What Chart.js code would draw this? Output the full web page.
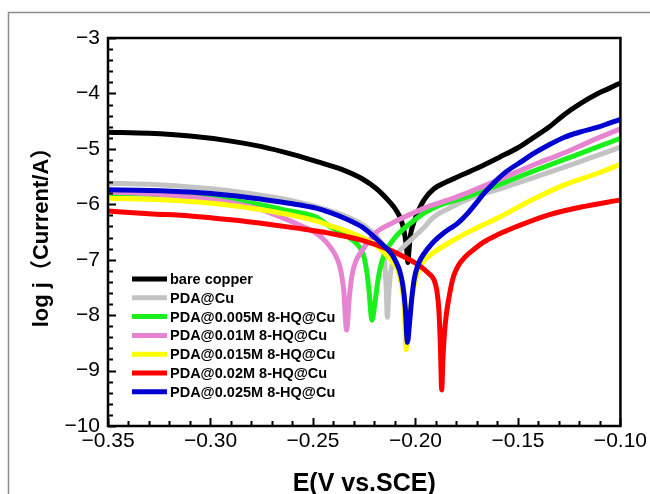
<!DOCTYPE html>
<html>
<head>
<meta charset="utf-8">
<script src="https://cdn.jsdelivr.net/npm/chart.js@4.4.1/dist/chart.umd.min.js"></script>
<style>
  html, body { margin: 0; padding: 0; background: #fff; }
  #wrap { width: 650px; height: 494px; position: relative; }
</style>
</head>
<body>
<div id="wrap"><canvas id="c" width="650" height="494"></canvas></div>
<script>
// ---- Data ----
const seriesLabels = [
  'bare copper', 'PDA@Cu', 'PDA@0.005M 8-HQ@Cu', 'PDA@0.01M 8-HQ@Cu',
  'PDA@0.015M 8-HQ@Cu', 'PDA@0.02M 8-HQ@Cu', 'PDA@0.025M 8-HQ@Cu'
];
const seriesColors = ['#000000', '#c3c3c3', '#1cf01c', '#e684d2', '#ffff00', '#ff0000', '#0000d0'];

// bare copper
const bareE = [-0.35, -0.33, -0.31, -0.29, -0.275, -0.26, -0.248, -0.236, -0.226, -0.219, -0.214, -0.2105, -0.2080, -0.2062, -0.2050, -0.2042, -0.2037, -0.2032, -0.2024, -0.2010, -0.1991, -0.1958, -0.1910, -0.1850, -0.1790, -0.170, -0.159, -0.150, -0.143, -0.135, -0.127, -0.119, -0.111, -0.105, -0.100];
const bareL = [-4.70, -4.72, -4.77, -4.86, -4.96, -5.10, -5.23, -5.37, -5.54, -5.72, -5.90, -6.05, -6.20, -6.38, -6.60, -6.85, -7.05, -6.85, -6.55, -6.35, -6.16, -5.92, -5.72, -5.60, -5.50, -5.35, -5.15, -4.98, -4.81, -4.61, -4.37, -4.17, -4.00, -3.90, -3.81];

// PDA@Cu
const pdaE = [-0.35, -0.33, -0.31, -0.29, -0.27, -0.255, -0.245, -0.235, -0.228, -0.222, -0.218, -0.2160, -0.2150, -0.2143, -0.2137, -0.2130, -0.2120, -0.2105, -0.2080, -0.2054, -0.2010, -0.1972, -0.1910, -0.1840, -0.1752, -0.1589, -0.1431, -0.1273, -0.1144, -0.100];
const pdaL = [-5.62, -5.64, -5.69, -5.76, -5.87, -5.98, -6.08, -6.20, -6.32, -6.47, -6.62, -6.80, -7.05, -7.50, -8.04, -7.60, -7.20, -6.98, -6.85, -6.75, -6.60, -6.47, -6.23, -6.08, -5.92, -5.72, -5.53, -5.33, -5.16, -4.97];

// PDA@0.005M 8-HQ@Cu
const hq005E = [-0.35, -0.33, -0.31, -0.29, -0.275, -0.264, -0.2485, -0.2422, -0.2327, -0.2280, -0.2255, -0.2240, -0.2228, -0.2212, -0.2195, -0.2180, -0.2165, -0.2149, -0.2135, -0.2100, -0.2054, -0.2010, -0.1958, -0.1890, -0.1752, -0.1589, -0.1431, -0.1273, -0.1144, -0.100];
const hq005L = [-5.80, -5.82, -5.86, -5.93, -6.01, -6.10, -6.23, -6.39, -6.59, -6.74, -6.90, -7.15, -7.50, -8.09, -7.70, -7.30, -7.05, -6.88, -6.78, -6.60, -6.43, -6.30, -6.16, -6.03, -5.87, -5.64, -5.41, -5.19, -5.01, -4.81];

// PDA@0.01M 8-HQ@Cu
const hq01E = [-0.35, -0.33, -0.31, -0.29, -0.275, -0.265, -0.258, -0.2485, -0.2440, -0.2410, -0.2385, -0.2365, -0.2350, -0.2336, -0.2322, -0.2308, -0.2290, -0.2260, -0.2220, -0.2183, -0.2120, -0.2054, -0.1944, -0.1814, -0.1752, -0.1589, -0.1431, -0.1273, -0.1144, -0.100];
const hq01L = [-5.78, -5.81, -5.87, -5.97, -6.10, -6.24, -6.35, -6.52, -6.66, -6.80, -6.96, -7.18, -7.55, -8.27, -7.65, -7.25, -7.02, -6.83, -6.63, -6.48, -6.35, -6.23, -6.05, -5.89, -5.80, -5.55, -5.30, -5.07, -4.86, -4.64];

// PDA@0.015M 8-HQ@Cu
const hq015E = [-0.35, -0.33, -0.31, -0.29, -0.275, -0.26, -0.2485, -0.2422, -0.2340, -0.2260, -0.2183, -0.2140, -0.2110, -0.2087, -0.2068, -0.2055, -0.2046, -0.2035, -0.2020, -0.2006, -0.1985, -0.1967, -0.1930, -0.1896, -0.1830, -0.1752, -0.1589, -0.1431, -0.1273, -0.1110, -0.100];
const hq015L = [-5.89, -5.91, -5.95, -6.02, -6.10, -6.20, -6.30, -6.38, -6.48, -6.60, -6.77, -6.92, -7.05, -7.18, -7.45, -7.85, -8.62, -8.10, -7.75, -7.45, -7.20, -7.06, -6.92, -6.83, -6.68, -6.52, -6.23, -5.92, -5.65, -5.44, -5.28];

// PDA@0.02M 8-HQ@Cu
const hq02E = [-0.35, -0.33, -0.31, -0.29, -0.27, -0.258, -0.2422, -0.2260, -0.2135, -0.2054, -0.1972, -0.1935, -0.1910, -0.1896, -0.1885, -0.1878, -0.1872, -0.1866, -0.1858, -0.1848, -0.1830, -0.1814, -0.1790, -0.1752, -0.1700, -0.1671, -0.1600, -0.1512, -0.1350, -0.1192, -0.100];
const hq02L = [-6.12, -6.17, -6.21, -6.28, -6.37, -6.43, -6.52, -6.65, -6.81, -6.95, -7.13, -7.25, -7.36, -7.55, -7.95, -8.60, -9.35, -8.80, -8.30, -7.95, -7.55, -7.30, -7.10, -6.93, -6.77, -6.69, -6.55, -6.41, -6.19, -6.05, -5.92];

// PDA@0.025M 8-HQ@Cu
const hq025E = [-0.35, -0.33, -0.31, -0.29, -0.275, -0.26, -0.2485, -0.2422, -0.2340, -0.2260, -0.2183, -0.2140, -0.2116, -0.2095, -0.2078, -0.2062, -0.2050, -0.2039, -0.2028, -0.2018, -0.2006, -0.1990, -0.1972, -0.1940, -0.1910, -0.1870, -0.1829, -0.1800, -0.1781, -0.1740, -0.1704, -0.1670, -0.1637, -0.1600, -0.1560, -0.1479, -0.1431, -0.1350, -0.1273, -0.1190, -0.1110, -0.1050, -0.100];
const hq025L = [-5.74, -5.75, -5.78, -5.84, -5.91, -5.99, -6.07, -6.14, -6.26, -6.41, -6.65, -6.80, -6.90, -7.04, -7.19, -7.45, -7.85, -8.49, -8.10, -7.70, -7.35, -7.12, -6.97, -6.80, -6.67, -6.54, -6.43, -6.36, -6.30, -6.14, -5.98, -5.82, -5.69, -5.55, -5.42, -5.22, -5.10, -4.93, -4.79, -4.69, -4.61, -4.53, -4.47];

const xTickValues = [-0.35, -0.30, -0.25, -0.20, -0.15, -0.10];
const yTickValues = [-10, -9, -8, -7, -6, -5, -4, -3];

const seriesE = [bareE, pdaE, hq005E, hq01E, hq015E, hq02E, hq025E];
const seriesL = [bareL, pdaL, hq005L, hq01L, hq015L, hq02L, hq025L];

const datasets = seriesLabels.map((lab, i) => ({
  label: lab,
  data: seriesE[i].map((e, k) => ({ x: e, y: seriesL[i][k] })),
  borderColor: seriesColors[i],
  backgroundColor: seriesColors[i],
  borderWidth: 5,
  pointRadius: 0,
  fill: false,
  cubicInterpolationMode: 'monotone',
  borderJoinStyle: 'round',
  borderCapStyle: 'round',
  order: seriesLabels.length - i
}));

const minus = v => (v < 0 ? '\u2212' : '');

const decorPlugin = {
  id: 'decor',
  beforeDraw(chart) {
    const ctx = chart.ctx;
    ctx.save();
    ctx.fillStyle = '#fff';
    ctx.fillRect(0, 0, chart.width, chart.height);
    ctx.strokeStyle = '#8c8c8c';
    ctx.lineWidth = 1.5;
    ctx.beginPath();
    ctx.moveTo(8.5, chart.height);
    ctx.lineTo(8.5, 12.5);
    ctx.lineTo(chart.width, 12.5);
    ctx.stroke();
    ctx.restore();
  },
  afterDraw(chart) {
    const ctx = chart.ctx;
    const a = chart.chartArea;
    const xs = chart.scales.x, ys = chart.scales.y;
    ctx.save();
    ctx.strokeStyle = '#000';
    ctx.lineWidth = 2.5;
    ctx.strokeRect(a.left, a.top, a.right - a.left, a.bottom - a.top);
    ctx.lineWidth = 2;
    ctx.beginPath();
    for (let k = 0; k <= 35; k++) {
      const v = -10 + k * 0.2;
      const py = Math.round(ys.getPixelForValue(v)) + 0.5;
      const len = (k % 5 === 0) ? 8 : 5;
      ctx.moveTo(a.left, py);
      ctx.lineTo(a.left + len, py);
    }
    for (let k = 0; k <= 25; k++) {
      const v = -0.35 + k * 0.01;
      const px = Math.round(xs.getPixelForValue(v)) + 0.5;
      const len = (k % 5 === 0) ? 8 : 5;
      ctx.moveTo(px, a.bottom);
      ctx.lineTo(px, a.bottom - len);
    }
    ctx.stroke();
    const lx = a.left + 24, ly = a.top + 241, dy = 18.8;
    chart.data.datasets.forEach((ds, i) => {
      const y = ly + i * dy;
      ctx.strokeStyle = ds.borderColor;
      ctx.lineWidth = 5;
      ctx.beginPath();
      ctx.moveTo(lx, y);
      ctx.lineTo(lx + 35, y);
      ctx.stroke();
      ctx.fillStyle = '#000';
      ctx.font = 'bold 14.5px "Liberation Sans", Arial, sans-serif';
      ctx.textBaseline = 'middle';
      ctx.textAlign = 'left';
      ctx.fillText(ds.label, lx + 38, y + 1);
    });
    ctx.restore();
  }
};

new Chart(document.getElementById('c'), {
  type: 'line',
  data: { datasets },
  plugins: [decorPlugin],
  options: {
    responsive: false,
    devicePixelRatio: 1,
    animation: false,
    layout: { padding: { top: 38, right: 20, left: 0, bottom: 0 } },
    plugins: { legend: { display: false }, tooltip: { enabled: false } },
    scales: {
      x: {
        type: 'linear', min: -0.35, max: -0.10,
        afterFit(s) { s.height = 68; },
        afterBuildTicks(s) { s.ticks = xTickValues.map(v => ({ value: v })); },
        grid: { display: false, drawTicks: false },
        border: { display: false },
        ticks: {
          autoSkip: false, maxRotation: 0, padding: 3,
          color: '#000',
          font: { family: '"Liberation Sans", Arial, sans-serif', size: 21 },
          callback: v => minus(v) + Math.abs(v).toFixed(2)
        },
        title: {
          display: true, text: 'E(V vs.SCE)', color: '#000',
          font: { family: '"Liberation Sans", Arial, sans-serif', size: 25, weight: 'bold', lineHeight: 0.8 },
          padding: { top: 0, bottom: 0 }
        }
      },
      y: {
        type: 'linear', min: -10, max: -3,
        afterFit(s) { s.width = 108; },
        afterBuildTicks(s) { s.ticks = yTickValues.map(v => ({ value: v })); },
        grid: { display: false, drawTicks: false },
        border: { display: false },
        ticks: {
          padding: 8, color: '#000',
          font: { family: '"Liberation Sans", Arial, sans-serif', size: 21 },
          callback: v => minus(v) + Math.abs(v)
        },
        title: {
          display: true, text: 'log j\uFF08Current/A\uFF09', color: '#000',
          font: { family: '"Liberation Sans", "Noto Sans CJK SC", Arial, sans-serif', size: 22, weight: 'bold' },
          padding: { top: 29, bottom: 0 }
        }
      }
    }
  }
});
</script>
</body>
</html>
